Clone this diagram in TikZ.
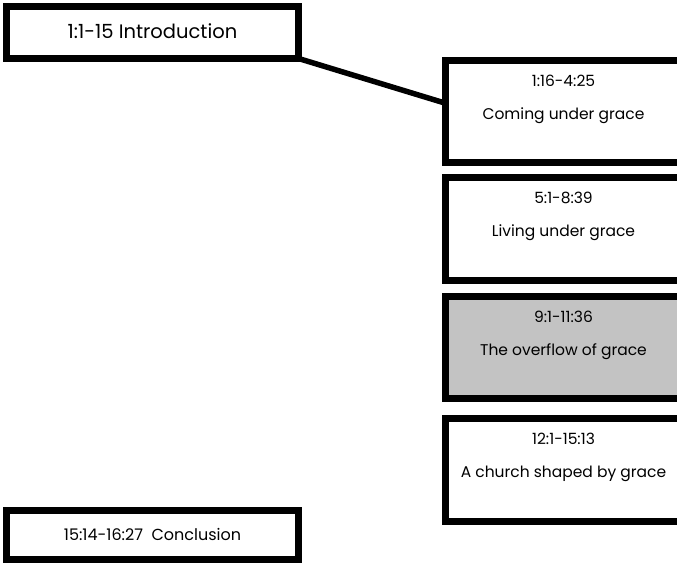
\documentclass[tikz,border=0pt]{standalone}
\usepackage{fontspec}
\setmainfont{Poppins}
\usepackage{xcolor}
\usetikzlibrary{positioning}
\definecolor{graceshade}{RGB}{195,195,195}

\begin{document}
\begin{tikzpicture}[x=1pt,y=1pt]
\tikzset{frame/.style={draw,line width=7pt,outer sep=0pt,inner sep=0pt}}
\tikzset{endbox/.style={frame,minimum width=292pt}}
\tikzset{part/.style={frame,minimum width=236pt,minimum height=102.5pt}}
\tikzset{parttext/.style={align=center,font=\fontsize{15.5}{33}\selectfont}}
\tikzset{link/.style={line width=5.5pt}}

\clip (0,0) rectangle (677,564);

\node[endbox,minimum height=52pt,text depth=3pt,font=\fontsize{19.5}{22}\selectfont] (intro) at (152.5,531.5) {1:1-15 Introduction};
\node[part] (c1) at (563.5,452.5) {};
\node[part,below=15pt of c1] (c2) {};
\node[part,fill=graceshade,below=16pt of c2] (c3) {};
\node[part,below=20pt of c3] (c4) {};
\node[endbox,minimum height=49pt,text depth=1pt,font=\fontsize{16}{19}\selectfont] (concl) at (152.5,29) {15:14-16:27~~Conclusion};

\node[parttext] (c1t) at ([yshift=-39pt]c1.north) {1:16-4:25\\Coming under grace};
\node[parttext] (c2t) at ([yshift=-39pt]c2.north) {5:1-8:39\\Living under grace};
\node[parttext] (c3t) at ([yshift=-39pt]c3.north) {9:1-11:36\\The overflow of grace};
\node[parttext] (c4t) at ([yshift=-39pt]c4.north) {12:1-15:13\\A church shaped by grace};

\draw[link] (intro.south east) -- (c1.176.6);

\end{tikzpicture}
\end{document}
